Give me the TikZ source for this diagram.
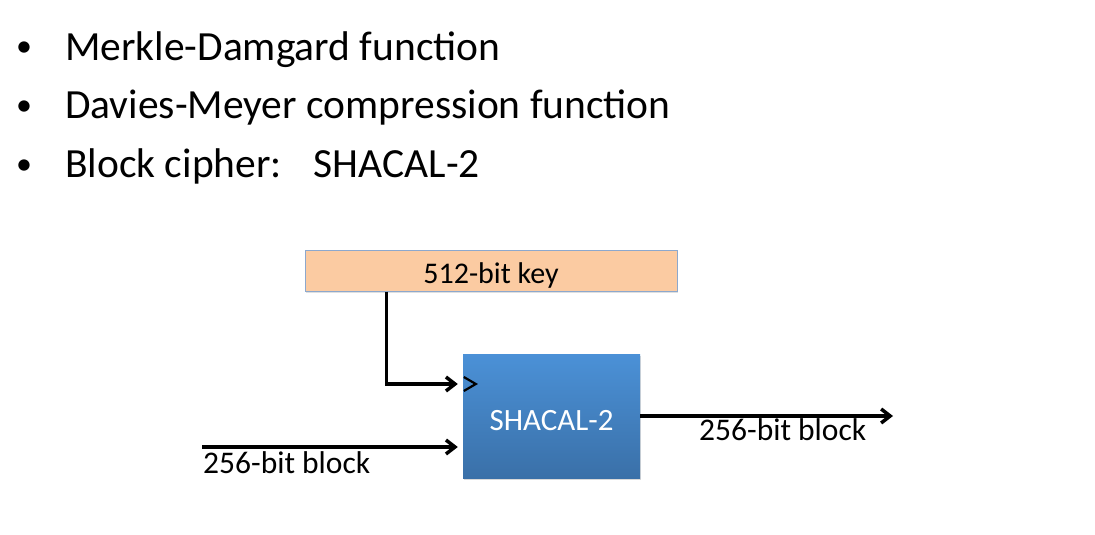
\documentclass[tikz,border=0pt]{standalone}
\usepackage{fontspec}
\setmainfont{Carlito}
\usetikzlibrary{arrows.meta,shadows}
\definecolor{keyfill}{RGB}{251,203,162}
\definecolor{keyline}{RGB}{140,168,205}
\definecolor{bluetop}{RGB}{75,145,215}
\definecolor{bluebot}{RGB}{58,112,168}
\begin{document}
\begin{tikzpicture}[x=1pt,y=-1pt,
  bullettext/.style={anchor=base west, inner sep=0pt, font=\fontsize{41.5}{48}\selectfont},
  bulletmark/.style={anchor=base, inner sep=0pt, font=\fontsize{32}{36}\selectfont},
  lbl/.style={anchor=base west, inner sep=0pt, font=\fontsize{31.5}{36}\selectfont},
  conn/.style={line width=3.5pt, -{Straight Barb[length=9pt,width=14pt]}},
  keybox/.style={draw=keyline, line width=1pt, fill=keyfill, inner sep=0pt,
    minimum width=372pt, text height=33pt, text depth=8pt,
    font=\fontsize{30}{36}\selectfont,
    drop shadow={shadow xshift=1pt, shadow yshift=-2pt, opacity=0.25}},
  cipherbox/.style={top color=bluetop, bottom color=bluebot, inner sep=0pt,
    minimum width=177pt, text height=76pt, text depth=48pt, text=white,
    font=\fontsize{31}{36}\selectfont,
    drop shadow={shadow xshift=1pt, shadow yshift=-2pt, opacity=0.3}},
]
\useasboundingbox (0,0) rectangle (1095,535);
% bullets
\node[bulletmark] (b1) at (24,57) {•};
\node[bulletmark] (b2) at (24,115) {•};
\node[bulletmark] (b3) at (24,174) {•};
\node[bullettext] (t1) at (65,60) {Merkle-Damgard function};
\node[bullettext] (t2) at (65,118) {Davies-Meyer compression function};
\node[bullettext] (t3) at (65,177) {Block cipher:\hspace{32pt}SHACAL-2};
% boxes
\node[keybox] (key) at (491,270.5) {512-bit key};
\node[cipherbox] (blue) at (551.5,416) {SHACAL-2};
% key connector
\draw[conn] ([xshift=82pt]key.south west) |- ([xshift=-5pt,yshift=32pt]blue.west);
\draw[line width=2.2pt] ([xshift=1pt,yshift=39pt]blue.west) -- ([xshift=13pt,yshift=32pt]blue.west) -- ([xshift=1pt,yshift=25pt]blue.west);
% input block
\coordinate (inL) at (202,447);
\draw[conn] (inL) -- ([xshift=-5pt,yshift=-31pt]blue.west);
\node[lbl] (inlbl) at (203,473) {256-bit block};
% output block
\coordinate (outR) at (893,416);
\draw[conn] (blue.east) -- (outR);
\node[lbl] (outlbl) at (699,440) {256-bit block};
\end{tikzpicture}
\end{document}
